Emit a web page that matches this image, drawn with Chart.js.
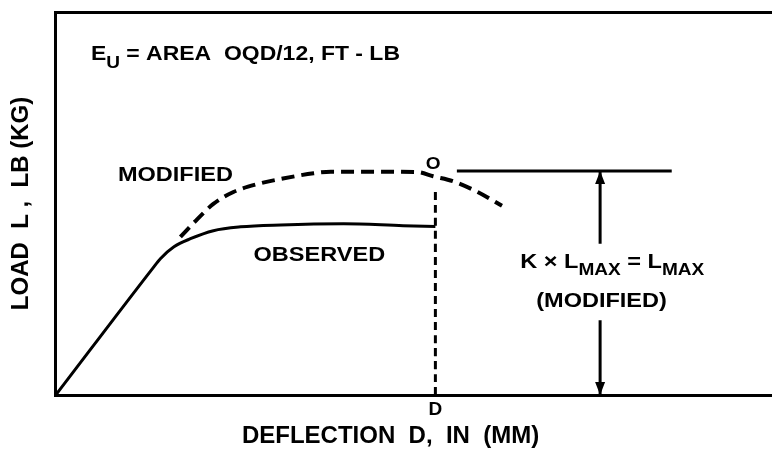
<!DOCTYPE html>
<html>
<head>
<meta charset="utf-8">
<script src="https://cdn.jsdelivr.net/npm/chart.js@4.4.1/dist/chart.umd.min.js"></script>
<style>
  html, body { margin: 0; padding: 0; background: #fff; }
</style>
</head>
<body>
<canvas id="myChart" width="772" height="452"></canvas>
<script>
// observed load / deflection curve (solid)
var observedX = [0, 13.5, 14.6, 16.5, 18.8, 22.0, 25.8, 31.4, 40.2, 48.5, 53.0];
var observedY = [0, 33.0, 35.6, 38.7, 40.8, 42.9, 43.9, 44.4, 44.7, 44.2, 44.0];

// modified curve (dashed)
var modifiedX = [17.4, 19.8, 22.0, 24.8, 28.2, 31.4, 36.0, 38.4, 43.9, 50.5, 52.7, 55.5, 58.9, 62.3];
var modifiedY = [41.3, 46.0, 49.9, 53.0, 55.1, 56.4, 57.9, 58.3, 58.3, 58.2, 57.1, 55.8, 53.0, 49.4];

// deflection D and the modified max load
var deflectionD = 53;
var dropTop = 54.3;
var loadMax = 58.5;
var maxLineX = [56, 86];
var arrowX = 76;
var arrowGap = [19.5, 39.5];

var FONT = "'Liberation Sans', Arial, sans-serif";
var STRETCH = 1.12;  // labels are drawn a little wide

function pts(xs, ys) {
  return xs.map(function (x, i) { return { x: x, y: ys[i] }; });
}

// text notes, in data units
var notes = [
  { runs: [['MODIFIED']], x: 16.7, y: 57.4, size: 21, align: 'center' },
  { runs: [['OBSERVED']], x: 36.8, y: 36.6, size: 21, align: 'center' },
  { runs: [['O']], x: 52.7, y: 60.3, size: 17, align: 'center' },
  { runs: [['E'], ['U', 1], [' = AREA  OQD/12, FT - LB']], x: 4.9, y: 88.9, size: 20.5, align: 'left' },
  { runs: [['K \u00d7 L'], ['MAX', 1], [' = L'], ['MAX', 1]], x: 77.7, y: 34.8, size: 21, align: 'center' },
  { runs: [['(MODIFIED)']], x: 76.2, y: 24.4, size: 21, align: 'center' }
];

var notesPlugin = {
  id: 'notes',
  afterDatasetsDraw: function (chart) {
    var ctx = chart.ctx, sx = chart.scales.x, sy = chart.scales.y;
    ctx.save();
    ctx.fillStyle = '#000';
    ctx.textBaseline = 'middle';
    ctx.textAlign = 'left';
    notes.forEach(function (n) {
      var big = 'bold ' + n.size + 'px ' + FONT;
      var small = 'bold ' + Math.round(n.size * 0.82) + 'px ' + FONT;
      var w = 0;
      n.runs.forEach(function (r) {
        ctx.font = r[1] ? small : big;
        w += ctx.measureText(r[0]).width;
      });
      var px = sx.getPixelForValue(n.x), py = sy.getPixelForValue(n.y);
      if (n.align === 'center') px -= w * STRETCH / 2;
      ctx.save();
      ctx.translate(px, py);
      ctx.scale(STRETCH, 1);
      var cx = 0;
      n.runs.forEach(function (r) {
        ctx.font = r[1] ? small : big;
        ctx.fillText(r[0], cx, r[1] ? n.size * 0.42 : 0);
        cx += ctx.measureText(r[0]).width;
      });
      ctx.restore();
    });

    // arrow heads on the K x Lmax dimension line
    var ax = sx.getPixelForValue(arrowX);
    var top = sy.getPixelForValue(loadMax), bot = sy.getPixelForValue(0);
    ctx.beginPath();
    ctx.moveTo(ax, top); ctx.lineTo(ax - 5, top + 13); ctx.lineTo(ax + 5, top + 13); ctx.closePath();
    ctx.moveTo(ax, bot); ctx.lineTo(ax - 5, bot - 13); ctx.lineTo(ax + 5, bot - 13); ctx.closePath();
    ctx.fill();
    ctx.restore();
  }
};

var line = function (data, width, dash) {
  return {
    data: data,
    borderColor: '#000',
    borderWidth: width,
    borderDash: dash || [],
    pointRadius: 0,
    showLine: true,
    fill: false,
    cubicInterpolationMode: 'monotone'
  };
};

var ctx = document.getElementById('myChart').getContext('2d');
var myChart = new Chart(ctx, {
  type: 'scatter',
  data: {
    datasets: [
      line(pts(observedX, observedY), 3),
      line(pts(modifiedX, modifiedY), 4, [13, 7]),
      line([{ x: deflectionD, y: 0 }, { x: deflectionD, y: dropTop }], 3, [8, 5]),
      line([{ x: maxLineX[0], y: loadMax }, { x: maxLineX[1], y: loadMax }], 3),
      line([{ x: arrowX, y: loadMax }, { x: arrowX, y: arrowGap[1] }], 3),
      line([{ x: arrowX, y: arrowGap[0] }, { x: arrowX, y: 0 }], 3)
    ]
  },
  options: {
    responsive: false,
    devicePixelRatio: 1,
    animation: false,
    layout: { padding: { top: 12, right: 0, bottom: 0, left: 0 } },
    plugins: { legend: { display: false }, tooltip: { enabled: false } },
    scales: {
      x: {
        type: 'linear', position: 'bottom', min: 0, max: 100,
        grid: { display: false, drawTicks: false },
        border: { display: true, width: 3, color: '#000' },
        afterBuildTicks: function (scale) { scale.ticks = [{ value: deflectionD }]; },
        ticks: {
          padding: 5, color: '#000', maxRotation: 0,
          font: { family: FONT, size: 19, weight: 'bold', lineHeight: 1 },
          callback: function () { return 'D'; }
        },
        title: {
          display: true,
          // trailing no-break spaces pull the centred title a little to the left
          text: 'DEFLECTION  D,  IN  (MM)\u00a0\u00a0\u00a0\u00a0\u00a0\u00a0\u00a0',
          color: '#000',
          font: { family: FONT, size: 24, weight: 'bold', lineHeight: 1 },
          padding: { top: 0, bottom: 4 }
        }
      },
      xTop: {
        type: 'linear', position: 'top', min: 0, max: 100,
        grid: { display: false, drawTicks: false },
        ticks: { display: false },
        border: { display: true, width: 3, color: '#000' }
      },
      y: {
        type: 'linear', min: 0, max: 100,
        grid: { display: false, drawTicks: false },
        ticks: { display: false },
        border: { display: true, width: 3, color: '#000' },
        title: {
          display: true, text: 'LOAD  L ,  LB (KG)', color: '#000',
          font: { family: FONT, size: 24, weight: 'bold' },
          padding: { top: 7, bottom: 20 }
        }
      }
    }
  },
  plugins: [notesPlugin]
});
</script>
</body>
</html>
